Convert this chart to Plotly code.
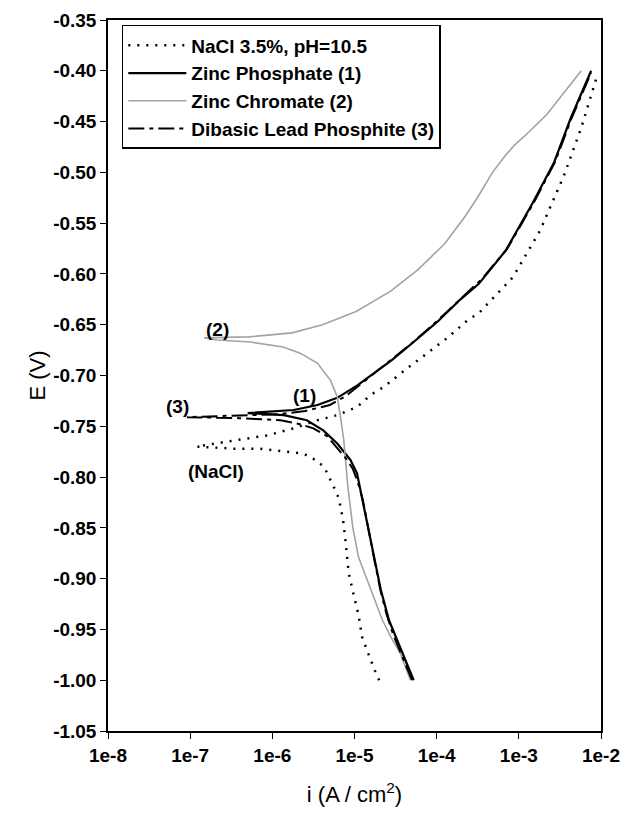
import plotly.graph_objects as go

# log10(i) and E (V)
nacl_log_i = [-4.70, -4.76, -4.91, -4.95, -5.01, -5.07, -5.11, -5.14, -5.19, -5.25, -5.37, -5.48,
              -5.62, -5.86, -6.15, -6.47, -6.92, -6.47, -6.06, -5.74, -5.45, -5.21, -4.97, -4.80,
              -4.64, -4.36, -4.11, -3.87, -3.63, -3.48, -3.07, -2.74, -2.45, -2.24, -2.04]
nacl_E = [-1.000, -0.989, -0.957, -0.936, -0.916, -0.895, -0.862, -0.842, -0.821, -0.810, -0.790, -0.783,
          -0.777, -0.775, -0.772, -0.772, -0.770, -0.764, -0.759, -0.752, -0.744, -0.739, -0.731, -0.719,
          -0.711, -0.693, -0.678, -0.663, -0.646, -0.638, -0.603, -0.557, -0.503, -0.456, -0.403]

zp_log_i = [-4.28, -4.40, -4.50, -4.58, -4.68, -4.76, -4.85, -4.93, -4.97, -5.05, -5.21, -5.38,
            -5.58, -5.86, -6.30, -5.74, -5.45, -5.21, -4.97, -4.75, -4.55, -4.28, -3.99, -3.71,
            -3.49, -3.16, -2.83, -2.57, -2.37, -2.12]
zp_E = [-1.000, -0.977, -0.957, -0.941, -0.911, -0.879, -0.842, -0.813, -0.796, -0.783, -0.767, -0.754,
        -0.744, -0.739, -0.737, -0.734, -0.729, -0.722, -0.710, -0.697, -0.685, -0.667, -0.647, -0.625,
        -0.610, -0.577, -0.530, -0.490, -0.447, -0.400]

zc_log_i = [-4.32, -4.44, -4.56, -4.66, -4.80, -4.95, -5.02, -5.08, -5.11, -5.13, -5.17, -5.21,
            -5.29, -5.45, -5.66, -5.87, -6.27, -6.67, -6.83, -6.29, -5.76, -5.39, -4.98, -4.56,
            -4.23, -3.90, -3.65, -3.49, -3.32, -3.16, -3.05, -2.90, -2.66, -2.24]
zc_E = [-1.000, -0.974, -0.957, -0.941, -0.911, -0.879, -0.850, -0.810, -0.783, -0.764, -0.741, -0.721,
        -0.705, -0.688, -0.678, -0.672, -0.667, -0.665, -0.663, -0.662, -0.658, -0.650, -0.637, -0.617,
        -0.596, -0.570, -0.543, -0.523, -0.500, -0.483, -0.473, -0.462, -0.443, -0.400]

dlp_log_i = [-4.30, -4.42, -4.53, -4.61, -4.68, -4.75, -4.83, -4.90, -4.96, -5.02, -5.10, -5.20,
             -5.33, -5.50, -5.66, -5.90, -6.40, -7.04, -6.40, -5.90, -5.60, -5.30, -5.10, -4.90,
             -4.60, -4.30, -3.99, -3.70, -3.45, -3.14, -2.82, -2.56, -2.36, -2.12]
dlp_E = [-1.000, -0.977, -0.955, -0.935, -0.913, -0.885, -0.850, -0.822, -0.805, -0.792, -0.782, -0.772,
         -0.760, -0.752, -0.748, -0.744, -0.742, -0.741, -0.739, -0.738, -0.735, -0.729, -0.720, -0.707,
         -0.688, -0.668, -0.646, -0.624, -0.605, -0.575, -0.530, -0.490, -0.447, -0.402]

x_tick_vals = [1e-8, 1e-7, 1e-6, 1e-5, 1e-4, 1e-3, 1e-2]
x_tick_text = ["1e-8", "1e-7", "1e-6", "1e-5", "1e-4", "1e-3", "1e-2"]
y_tick_vals = [-1.05, -1.00, -0.95, -0.90, -0.85, -0.80, -0.75, -0.70, -0.65, -0.60, -0.55, -0.50,
               -0.45, -0.40, -0.35]
y_tick_text = ["-1.05", "-1.00", "-0.95", "-0.90", "-0.85", "-0.80", "-0.75", "-0.70", "-0.65",
               "-0.60", "-0.55", "-0.50", "-0.45", "-0.40", "-0.35"]

labels = ["(2)", "(1)", "(3)", "(NaCl)"]
label_log_i = [-6.67, -5.61, -7.16, -6.68]
label_E = [-0.655, -0.720, -0.731, -0.795]

FONT = "Liberation Sans, Arial, sans-serif"


def lin(v):
    return [10 ** a for a in v]


fig = go.Figure()
fig.add_trace(go.Scatter(x=lin(nacl_log_i), y=nacl_E, mode="lines", name="NaCl 3.5%, pH=10.5",
                         line=dict(color="black", width=2.5, dash="2px,7px")))
fig.add_trace(go.Scatter(x=lin(zp_log_i), y=zp_E, mode="lines", name="Zinc Phosphate (1)",
                         line=dict(color="black", width=2.2)))
fig.add_trace(go.Scatter(x=lin(zc_log_i), y=zc_E, mode="lines", name="Zinc Chromate (2)",
                         line=dict(color="#a3a3a3", width=1.6)))
fig.add_trace(go.Scatter(x=lin(dlp_log_i), y=dlp_E, mode="lines", name="Dibasic Lead Phosphite (3)",
                         line=dict(color="black", width=2, dash="16px,5px,4px,5px")))

for t, lx, ly in zip(labels, label_log_i, label_E):
    fig.add_annotation(x=lx, y=ly, xref="x", yref="y", text="<b>%s</b>" % t, showarrow=False,
                       font=dict(family=FONT, size=19, color="black"))

fig.update_layout(
    width=621, height=816,
    margin=dict(l=108, r=20, t=20, b=85),
    paper_bgcolor="white", plot_bgcolor="white",
    showlegend=True,
    legend=dict(x=0.028, y=0.993, xanchor="left", yanchor="top",
                bgcolor="white", bordercolor="black", borderwidth=1.5,
                font=dict(family=FONT, size=19, color="black", weight="bold"),
                itemwidth=58),
    font=dict(family=FONT, color="black"),
)
fig.update_xaxes(type="log", range=[-8, -2], tickvals=x_tick_vals, ticktext=x_tick_text,
                 automargin=False,
                 showgrid=False, zeroline=False, showline=True, linecolor="black", linewidth=1.5,
                 mirror=True, ticks="outside", ticklen=6, tickcolor="black",
                 tickfont=dict(family=FONT, size=19, color="black", weight="bold"),
                 title=dict(text="i (A / cm<sup>2</sup>)", font=dict(family=FONT, size=22, color="black"),
                            standoff=22))
fig.update_yaxes(range=[-1.05, -0.35], tickvals=y_tick_vals, ticktext=y_tick_text,
                 automargin=False,
                 showgrid=False, zeroline=False, showline=True, linecolor="black", linewidth=1.5,
                 mirror=True, ticks="outside", ticklen=6, tickcolor="black",
                 tickfont=dict(family=FONT, size=19, color="black", weight="bold"),
                 title=dict(text="E (V)", font=dict(family=FONT, size=22, color="black"), standoff=1))

fig.write_html("out.html")
